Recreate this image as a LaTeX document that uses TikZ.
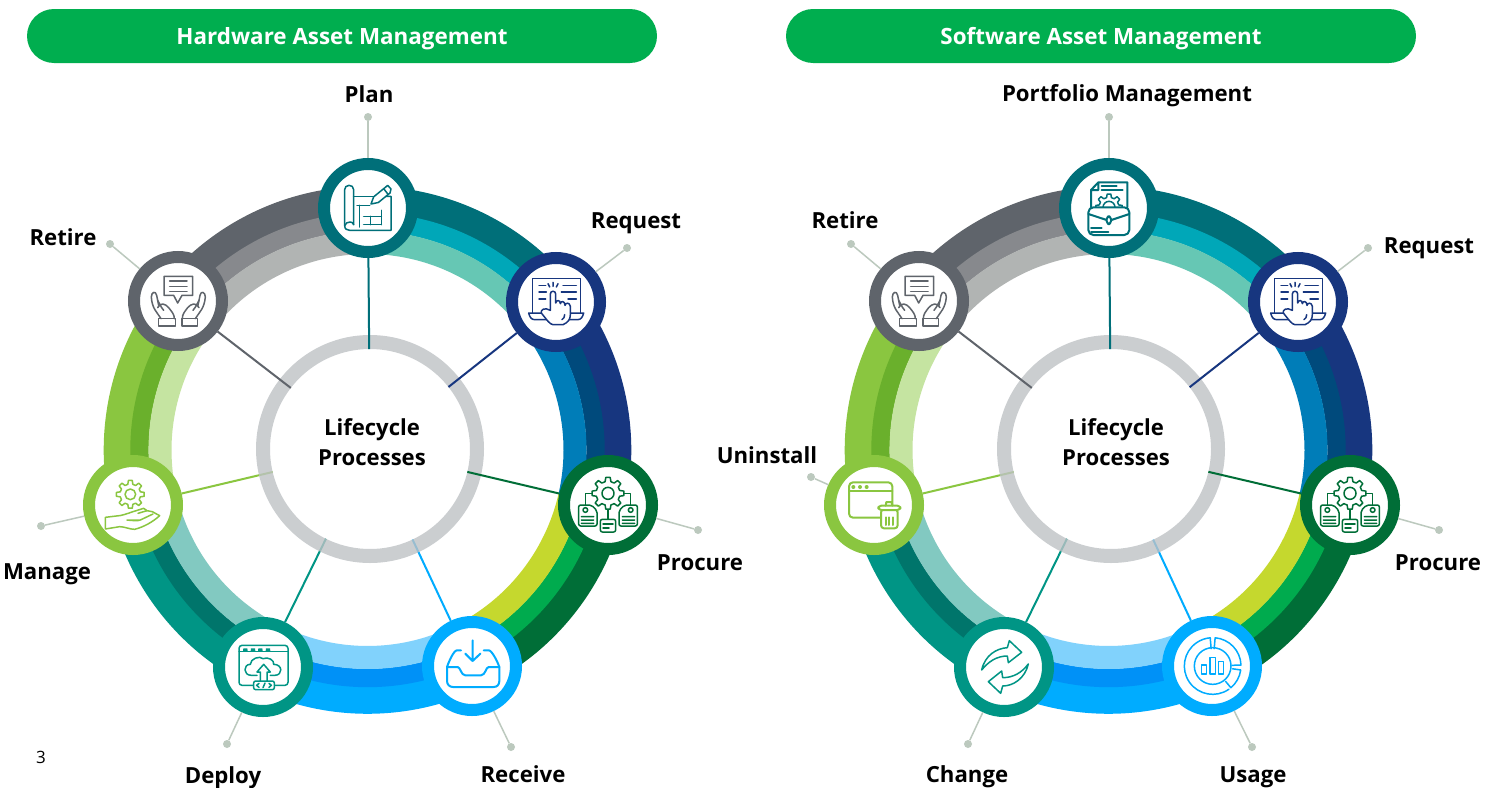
\documentclass[tikz,border=0pt]{standalone}
\usepackage{fontspec}
\setmainfont{Open Sans}
\definecolor{pillg}{HTML}{00AE4F}
\definecolor{lead}{HTML}{BCC9BE}
\definecolor{hubg}{HTML}{BEC2C5}
\definecolor{cplan}{HTML}{006F79}\definecolor{cplanb}{HTML}{00A7B8}\definecolor{cplanc}{HTML}{66C7B4}
\definecolor{creq}{HTML}{17367F}\definecolor{creqb}{HTML}{004A7C}\definecolor{creqc}{HTML}{007DB8}
\definecolor{cpro}{HTML}{006E37}\definecolor{cprob}{HTML}{00AB4E}\definecolor{cproc}{HTML}{C5D82E}
\definecolor{crec}{HTML}{00ACFF}\definecolor{crecb}{HTML}{0091F7}\definecolor{crecc}{HTML}{81D2FC}
\definecolor{cdep}{HTML}{009585}\definecolor{cdepb}{HTML}{00756B}\definecolor{cdepc}{HTML}{82C9C1}
\definecolor{cman}{HTML}{8AC640}\definecolor{cmanb}{HTML}{6AB02C}\definecolor{cmanc}{HTML}{C5E4A1}
\definecolor{cret}{HTML}{5F646B}\definecolor{cretb}{HTML}{87898D}\definecolor{cretc}{HTML}{B1B4B3}
\tikzset{
 pill/.style={fill=pillg,rounded corners=27pt,minimum width=630pt,minimum height=54pt,inner sep=0pt,text=white,text height=16pt,text depth=0pt,font=\fontsize{22.4}{26}\bfseries\selectfont},
 lab/.style={font=\fontsize{22.2}{26}\bfseries\selectfont,inner sep=0pt,text=black,text height=16pt,text depth=0pt},
 hubtext/.style={font=\fontsize{22.1}{29.3}\bfseries\selectfont,align=center,inner sep=0pt,text=black},
 stage/.style={circle,draw=#1,line width=12pt,fill=white,minimum size=88pt,inner sep=0pt},
 hubcore/.style={circle,minimum size=200pt,inner sep=0pt,outer sep=0pt},
 hubring/.style={circle,draw=hubg,draw opacity=.8,line width=14pt,minimum size=214pt,inner sep=0pt},
 link/.style={draw=#1,line width=2pt},
 leader/.style={draw=lead,line width=1.5pt},
 leaddot/.style={circle,fill=lead,minimum size=8pt,inner sep=0pt},
 icline/.style={draw=ic,line width=1.5pt,line join=round,line cap=round},
 iconw/.style={icline,fill=white},
 icdot/.style={fill=ic,draw=none},
}
\newcommand\arcband[5]{%
 \draw[line width=27.6pt,#3] (#1:250) arc[start angle=#1,end angle=#2,radius=250];
 \draw[line width=18.4pt,#4] (#1:228) arc[start angle=#1,end angle=#2,radius=228];
 \draw[line width=23pt,#5] (#1:207.5) arc[start angle=#1,end angle=#2,radius=207.5];
}
\newcommand\allbands[2]{\begin{scope}[shift={(#1,#2)}]
 \arcband{-90}{-38.2}{cplan}{cplanb}{cplanc}
 \arcband{-38.2}{13}{creq}{creqb}{creqc}
 \arcband{13}{64.3}{cpro}{cprob}{cproc}
 \arcband{64.3}{115.8}{crec}{crecb}{crecc}
 \arcband{115.8}{167}{cdep}{cdepb}{cdepc}
 \arcband{167}{218.1}{cman}{cmanb}{cmanc}
 \arcband{218.1}{270}{cret}{cretb}{cretc}
\end{scope}}
% gear: centre x, y, outer r, inner r, hub r (raw zoom units)
\newcommand\gearicon[5]{%
 \draw[iconw,shift={(#1,#2)}] (-14:#4) \foreach \a in {0,45,...,315} { -- (\a-14:#4) -- (\a-8:#3) -- (\a+8:#3) -- (\a+14:#4) } -- cycle;
 \draw[icline] (#1,#2) circle[radius=#5];
}
\newcommand\iconscope[2]{\begin{scope}[x=.3333pt,y=-.3333pt,shift={(-#1,-#2)}]}
\newcommand\iconplan{\iconscope{203}{205}
 \draw[icline] (160,255) -- (160,150) .. controls (160,141) and (153,137) .. (146,137) .. controls (138,137) and (133,143) .. (133,150) -- (133,258) .. controls (133,268) and (140,272) .. (148,272) -- (272,272) -- (272,170) -- (242,170);
 \draw[icline] (160,170) -- (222,170);
 \draw[icline] (133,258) .. controls (135,250) and (142,247) .. (150,247) .. controls (155,247) and (158,250) .. (160,255);
 \draw[icline] (170,197) -- (208,197) (178,197) -- (178,262) (243,212) -- (243,255) (190,230) -- (243,230) (190,255) -- (243,255) (210,230) -- (210,255);
 \draw[iconw] (212,193) -- (220,171.5) -- (255,143) -- (262,137) -- (272,148) -- (269,160) -- (234,188.5) -- cycle;
 \draw[icline] (250,147) -- (264,165);
\end{scope}}
\newcommand\iconreq{\iconscope{769}{487}
 \draw[icline] (698,520) -- (698,417) -- (843,417) -- (843,520);
 \draw[icline] (718,437) -- (738,437) (718,457) -- (740,457) (718,478) -- (738,478) (790,437) -- (830,437) (785,457) -- (830,457) (805,478) -- (830,478);
 \draw[icline] (745,432) -- (750,442) (760,428) -- (760,440) (775,432) -- (770,442);
 \draw[icline] (730,520) -- (687,520) .. controls (690,532) and (695,540) .. (705,540) -- (745,540) (810,520) -- (852,520) .. controls (849,532) and (844,540) .. (834,540) -- (800,540);
 \draw[iconw] (752,512) -- (752,463) .. controls (752,452) and (768,452) .. (768,463) -- (768,490) .. controls (770,480) and (782,480) .. (782,492) .. controls (784,482) and (796,484) .. (796,497) .. controls (798,488) and (810,488) .. (812,500) -- (812,525) .. controls (812,540) and (805,548) .. (790,555) -- (760,555) .. controls (750,553) and (745,545) .. (725,520) .. controls (722,510) and (735,502) .. (752,512) -- cycle;
 \draw[icline] (795,525) .. controls (795,532) and (792,537) .. (787,540);
\end{scope}}
\newcommand\iconpro{\iconscope{1225}{195}
 \draw[icline] (1178,160) -- (1158,160) -- (1158,195) (1272,160) -- (1292,160) -- (1292,195) (1225,208) -- (1225,238);
 \gearicon{1225}{160}{48}{36}{18}
 \draw[iconw,rounded corners=2pt] (1137,195) -- (1175,195) -- (1192,212) -- (1192,258) -- (1137,258) -- cycle;
 \draw[icline] (1157,210) circle[radius=7] (1145,230) -- (1182,230) (1145,240) -- (1182,240) (1145,250) -- (1182,250);
 \draw[iconw,rounded corners=2pt] (1258,212) -- (1275,195) -- (1313,195) -- (1313,258) -- (1258,258) -- cycle;
 \draw[icline] (1293,210) circle[radius=7] (1268,230) -- (1305,230) (1268,240) -- (1305,240) (1268,250) -- (1305,250);
 \draw[iconw,rounded corners=2pt] (1202,238) rectangle (1248,276);
 \draw[icline] (1210,252) -- (1240,252) (1210,264) -- (1228,264);
\end{scope}}
\newcommand\iconrec{\iconscope{815}{677}
 \draw[icline,line width=2pt] (817,600) -- (817,662) (795,640) -- (817,662) (840,640) -- (817,662);
 \draw[icline,line width=2pt] (782,630) -- (770,630) .. controls (760,630) and (745,665) .. (740,680) -- (740,722) .. controls (740,733) and (748,740) .. (758,740) -- (880,740) .. controls (890,740) and (897,733) .. (897,722) -- (897,680) .. controls (892,665) and (875,630) .. (865,630) -- (850,630);
 \draw[icline,line width=2pt] (740,680) -- (772,680) .. controls (780,680) and (782,705) .. (795,705) -- (842,705) .. controls (855,705) and (857,680) .. (865,680) -- (897,680);
\end{scope}}
\newcommand\icondep{\iconscope{190}{680}
 \draw[icline,rounded corners=3pt] (118,615) rectangle (265,735);
 \draw[icline] (118,633) -- (265,633);
 \foreach \u in {137,160,182,205} {\fill[ic] (\u-7,632) -- (\u-6,624) -- (\u+6,624) -- (\u+7,632) -- cycle;}
 \draw[icline] (172,705) -- (155,705) .. controls (130,705) and (130,672) .. (152,672) .. controls (152,655) and (180,645) .. (190,655) .. controls (205,648) and (225,660) .. (222,672) .. controls (250,672) and (250,705) .. (225,705) -- (212,705);
 \draw[iconw] (182,722) -- (182,695) -- (172,695) -- (192,672) -- (212,695) -- (202,695) -- (202,722);
 \draw[iconw,rounded corners=2pt] (162,722) rectangle (224,748);
 \draw[icline] (178,729) -- (171,735) -- (178,741) (208,729) -- (215,735) -- (208,741) (196,728) -- (190,742);
\end{scope}}
\newcommand\iconman{\iconscope{190}{825}
 \gearicon{182}{793}{42}{31}{16}
 \draw[icline] (107,862) -- (140,858) .. controls (155,858) and (175,850) .. (190,845) -- (222,835) -- (232,842) -- (248,845) -- (270,857) .. controls (250,875) and (225,890) .. (195,898) .. controls (180,898) and (165,890) .. (150,890) -- (107,897) -- cycle;
 \draw[icline] (172,870) -- (212,870) -- (250,852) (205,850) -- (232,842) (212,870) .. controls (205,873) and (190,872) .. (172,870);
\end{scope}}
\newcommand\iconret{\iconscope{323}{212}
 \draw[icline] (281,138) -- (367,138) -- (367,195) -- (335,195) -- (322,218) -- (310,195) -- (281,195) -- cycle;
 \draw[icline] (298,152) -- (350,152) (298,168) -- (350,168) (298,184) -- (350,184);
 \draw[icline] (265,265) rectangle (315,287) (335,265) rectangle (382,287);
 \draw[icline] (272,265) .. controls (260,245) and (245,235) .. (243,200) .. controls (243,185) and (256,180) .. (259,195) -- (265,225);
 \draw[icline] (262,210) .. controls (268,220) and (270,228) .. (280,240) (262,232) .. controls (270,215) and (285,220) .. (295,232) .. controls (305,245) and (312,252) .. (312,265);
 \draw[icline] (375,265) .. controls (387,245) and (402,235) .. (405,200) .. controls (405,185) and (392,180) .. (389,195) -- (383,225);
 \draw[icline] (386,210) .. controls (380,220) and (378,228) .. (368,240) (386,232) .. controls (378,215) and (362,220) .. (352,232) .. controls (342,245) and (336,252) .. (336,265);
\end{scope}}
\newcommand\iconport{\iconscope{207}{174}
 \draw[icline,line width=2pt] (153,172) -- (153,120) -- (175,97) -- (262,97) -- (262,172) (175,97) -- (175,120) -- (153,120);
 \draw[icline,line width=2pt] (185,107) -- (230,107) (185,120) -- (248,120);
 \gearicon{207}{172}{40}{30}{18}
 \draw[iconw,line width=2pt,rounded corners=5pt] (145,172) rectangle (268,255);
 \draw[icline,line width=2pt] (145,192) -- (200,210) (268,192) -- (214,210);
 \draw[iconw,line width=2pt,rounded corners=3pt] (200,199) rectangle (213,222);
 \draw[icline,line width=2pt] (153,233) -- (185,233) (153,245) -- (205,245);
\end{scope}}
\newcommand\iconuni{\iconscope{162}{165}
 \draw[icline,line width=2pt,rounded corners=4pt] (87,97) rectangle (217,203);
 \draw[icline,line width=2pt] (87,124) -- (217,124);
 \fill[ic] (100,111) circle[radius=6] (120,111) circle[radius=6] (140,111) circle[radius=6];
 \draw[iconw,line width=2pt,rounded corners=3pt] (183,178) -- (183,235) -- (233,235) -- (233,178) -- cycle;
 \draw[iconw,line width=2pt,rounded corners=3pt] (175,167) rectangle (241,180);
 \draw[icline,line width=2pt] (197,167) -- (199,156) -- (215,156) -- (217,167);
 \draw[icline,line width=2pt] (197,202) -- (197,225) (208,202) -- (208,225) (219,202) -- (219,225);
\end{scope}}
\newcommand\iconchg{\iconscope{162}{171}
 \draw[icline] (95,180) .. controls (105,135) and (140,115) .. (172,113) -- (178,92) -- (215,127) -- (175,158) -- (172,138) .. controls (140,138) and (115,155) .. (95,180) -- cycle;
 \draw[icline] (235,162) .. controls (225,205) and (190,228) .. (158,228) -- (152,250) -- (115,215) -- (155,183) -- (158,203) .. controls (190,203) and (215,188) .. (235,162) -- cycle;
\end{scope}}
\newcommand\iconuse{\iconscope{786}{168}
 \begin{scope}[shift={(788,168)}]
 \draw[icline] (-85:85) arc[start angle=-85,end angle=-2,radius=85] -- (-2:58) (-85:85) -- (-85:52);
 \draw[icline] (8:85) arc[start angle=8,end angle=50,radius=85] -- (50:60) (8:85) -- (8:60);
 \draw[icline] (55:85) arc[start angle=55,end angle=265,radius=85] -- (265:52);
 \draw[icline] (0,0) circle[radius=55];
 \draw[icline] (-33,-3) rectangle (-18,24) (-8,-26) rectangle (9,24) (17,-13) rectangle (32,24);
 \end{scope}
\end{scope}}
\newcommand\placeicon[3]{\begin{scope}[shift={(#1.center)}]\colorlet{ic}{#2}#3\end{scope}}
\begin{document}
\begin{tikzpicture}[x=1pt,y=-1pt]
\useasboundingbox (0,0) rectangle (1499,787);
\fill[white] (0,0) rectangle (1499,787);
% headers
\node[pill] (hdrl) at (342,36) {Hardware Asset Management};
\node[pill] (hdrr) at (1101,36) {Software Asset Management};
% ring bands
\allbands{367.5}{450}
\allbands{1108.5}{450}
% stage circles, left
\node[stage=cplan] (lplan) at (368,208) {};
\node[stage=creq] (lreq) at (556,302) {};
\node[stage=cpro] (lpro) at (608,505) {};
\node[stage=crec] (lrec) at (472,666) {};
\node[stage=cdep] (ldep) at (263,667) {};
\node[stage=cman] (lman) at (133,505) {};
\node[stage=cret] (lret) at (178,301) {};
% stage circles, right
\node[stage=cplan] (rplan) at (1109,208) {};
\node[stage=creq] (rreq) at (1298,302) {};
\node[stage=cpro] (rpro) at (1350,505) {};
\node[stage=crec] (ruse) at (1212,666) {};
\node[stage=cdep] (rchg) at (1004,667) {};
\node[stage=cman] (runi) at (874,505) {};
\node[stage=cret] (rret) at (919,301) {};
% hubs
\node[hubcore] (lhub) at (370,449) {};
\node[hubcore] (rhub) at (1111,449) {};
\draw[link=crec] (lrec) -- (lhub);
\draw[link=cdep] (ldep) -- (lhub);
\draw[link=cman] (lman) -- (lhub);
\draw[link=crec] (ruse) -- (rhub);
\draw[link=cdep] (rchg) -- (rhub);
\draw[link=cman] (runi) -- (rhub);
\node[hubring] (lring) at (370,449) {};
\node[hubring] (rring) at (1111,449) {};
\draw[link=cplan] (lplan) -- (lhub);
\draw[link=creq] (lreq) -- (lhub);
\draw[link=cpro] (lpro) -- (lhub);
\draw[link=cret] (lret) -- (lhub);
\draw[link=cplan] (rplan) -- (rhub);
\draw[link=creq] (rreq) -- (rhub);
\draw[link=cpro] (rpro) -- (rhub);
\draw[link=cret] (rret) -- (rhub);
% leaders
\node[leaddot] (dlplan) at (368,117) {};
\node[leaddot] (dlreq) at (627,248) {};
\node[leaddot] (dlpro) at (698,530) {};
\node[leaddot] (dlrec) at (511,747) {};
\node[leaddot] (dldep) at (227,744) {};
\node[leaddot] (dlman) at (41,526) {};
\node[leaddot] (dlret) at (110,244) {};
\node[leaddot] (drplan) at (1109,117) {};
\node[leaddot] (drreq) at (1368,248) {};
\node[leaddot] (drpro) at (1439,530) {};
\node[leaddot] (druse) at (1252,747) {};
\node[leaddot] (drchg) at (968,744) {};
\node[leaddot] (druni) at (811,477) {};
\node[leaddot] (drret) at (851,244) {};
\draw[leader] (dlplan) -- (lplan);
\draw[leader] (dlreq) -- (lreq);
\draw[leader] (dlpro) -- (lpro);
\draw[leader] (dlrec) -- (lrec);
\draw[leader] (dldep) -- (ldep);
\draw[leader] (dlman) -- (lman);
\draw[leader] (dlret) -- (lret);
\draw[leader] (drplan) -- (rplan);
\draw[leader] (drreq) -- (rreq);
\draw[leader] (drpro) -- (rpro);
\draw[leader] (druse) -- (ruse);
\draw[leader] (drchg) -- (rchg);
\draw[leader] (druni) -- (runi);
\draw[leader] (drret) -- (rret);
% icons
\placeicon{lplan}{cplan}{\iconplan}
\placeicon{lreq}{creq}{\iconreq}
\placeicon{lpro}{cpro}{\iconpro}
\placeicon{lrec}{crec}{\iconrec}
\placeicon{ldep}{cdep}{\icondep}
\placeicon{lman}{cman}{\iconman}
\placeicon{lret}{cret}{\iconret}
\placeicon{rplan}{cplan}{\iconport}
\placeicon{rreq}{creq}{\iconreq}
\placeicon{rpro}{cpro}{\iconpro}
\placeicon{ruse}{crec}{\iconuse}
\placeicon{rchg}{cdep}{\iconchg}
\placeicon{runi}{cman}{\iconuni}
\placeicon{rret}{cret}{\iconret}
% labels
\node[hubtext] (tl) at (372,442) {Lifecycle\\Processes};
\node[hubtext] (tr) at (1116,442) {Lifecycle\\Processes};
\node[lab] (t1) at (369,94) {Plan};
\node[lab] (t2) at (636,220) {Request};
\node[lab] (t3) at (700,562) {Procure};
\node[lab] (t4) at (523,774) {Receive};
\node[lab] (t5) at (223,775) {Deploy};
\node[lab] (t6) at (47,571) {Manage};
\node[lab] (t7) at (63,237) {Retire};
\node[lab] (t8) at (1127,93) {Portfolio Management};
\node[lab] (t9) at (845,220) {Retire};
\node[lab] (t10) at (1429,245) {Request};
\node[lab] (t11) at (767,455) {Uninstall};
\node[lab] (t12) at (1438,562) {Procure};
\node[lab] (t13) at (1253,774) {Usage};
\node[lab] (t14) at (967,774) {Change};
\node[inner sep=0pt,font=\fontsize{17}{20}\selectfont] (pg) at (41,757) {3};
\end{tikzpicture}
\end{document}
